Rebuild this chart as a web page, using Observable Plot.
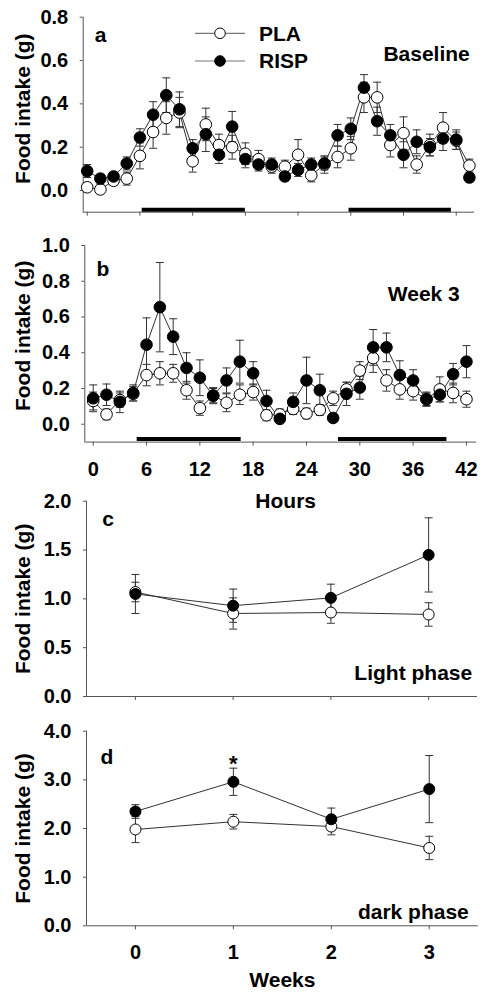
<!DOCTYPE html>
<html><head><meta charset="utf-8">
<script src="https://cdn.jsdelivr.net/npm/d3@7"></script>
<script src="https://cdn.jsdelivr.net/npm/@observablehq/plot@0.6"></script>
<style>
body{margin:0;background:#fff;}
#chart{position:relative;width:495px;height:997px;overflow:hidden;font-family:"Liberation Sans",Arial,sans-serif;font-weight:bold;}
.pane{position:absolute;left:0;}
</style></head><body><div id="chart"></div>
<script>
// ---------- data ----------
const hoursA = [0,1.5,3,4.5,6,7.5,9,10.5,12,13.5,15,16.5,18,19.5,21,22.5,24,25.5,27,28.5,30,31.5,33,34.5,36,37.5,39,40.5,42,43.5];
const plaA     = [0.015,0.005,0.045,0.055,0.16,0.27,0.335,0.36,0.135,0.305,0.21,0.20,0.17,0.145,0.11,0.11,0.165,0.07,0.12,0.155,0.195,0.43,0.43,0.21,0.265,0.12,0.21,0.29,0.23,0.115];
const plaAErr  = [0.02,0.02,0.02,0.03,0.06,0.075,0.075,0.07,0.05,0.075,0.05,0.055,0.05,0.04,0.03,0.03,0.07,0.03,0.04,0.05,0.055,0.07,0.07,0.055,0.075,0.04,0.05,0.07,0.04,0.03];
const rispA    = [0.09,0.055,0.065,0.125,0.245,0.35,0.44,0.375,0.195,0.26,0.165,0.295,0.145,0.12,0.12,0.065,0.095,0.12,0.125,0.255,0.285,0.475,0.32,0.255,0.165,0.225,0.20,0.24,0.235,0.06];
const rispAErr = [0.03,0.02,0.02,0.03,0.04,0.06,0.08,0.08,0.04,0.08,0.04,0.07,0.04,0.03,0.03,0.02,0.03,0.03,0.03,0.05,0.05,0.06,0.065,0.05,0.06,0.055,0.04,0.055,0.045,0.02];
const darkA    = [[6.26,18.0],[29.8,41.45]];

const hoursB = [0,1.5,3,4.5,6,7.5,9,10.5,12,13.5,15,16.5,18,19.5,21,22.5,24,25.5,27,28.5,30,31.5,33,34.5,36,37.5,39,40.5,42];
const plaB     = [0.13,0.055,0.135,0.17,0.275,0.285,0.285,0.19,0.09,0.16,0.12,0.165,0.18,0.05,0.055,0.085,0.06,0.08,0.145,0.195,0.30,0.37,0.245,0.195,0.185,0.14,0.195,0.175,0.14];
const plaBErr  = [0.05,0.03,0.04,0.04,0.06,0.065,0.05,0.05,0.04,0.04,0.05,0.055,0.045,0.03,0.03,0.03,0.03,0.03,0.04,0.04,0.05,0.08,0.06,0.055,0.05,0.04,0.07,0.055,0.045];
const rispB    = [0.145,0.165,0.125,0.175,0.445,0.655,0.49,0.315,0.26,0.16,0.245,0.35,0.285,0.13,0.03,0.125,0.245,0.19,0.035,0.17,0.205,0.43,0.43,0.275,0.245,0.14,0.165,0.28,0.35];
const rispBErr = [0.075,0.06,0.06,0.045,0.15,0.25,0.10,0.085,0.10,0.045,0.07,0.12,0.065,0.06,0.02,0.05,0.13,0.09,0.02,0.065,0.065,0.10,0.08,0.08,0.06,0.035,0.04,0.06,0.09];
const darkB    = [[4.95,16.65],[27.6,39.8]];
const hourTicks = [0,6,12,18,24,30,36,42];

const weeks = [0,1,2,3];
const plaC = [1.07,0.85,0.86,0.84],  plaCErr = [0.10,0.16,0.11,0.12];
const rispC = [1.05,0.93,1.01,1.45], rispCErr = [0.20,0.17,0.14,0.38];
const plaD = [1.98,2.14,2.04,1.60],  plaDErr = [0.27,0.15,0.17,0.24];
const rispD = [2.35,2.96,2.19,2.81], rispDErr = [0.14,0.28,0.23,0.69];
const sigD = [1]; // week index with significance marker

const seriesNames = ["PLA","RISP"];
const yLabel = "Food intake (g)";

// ---------- helpers ----------
const capSymbol = {draw(ctx, size){ const w = Math.sqrt(size/Math.PI); ctx.moveTo(-w,0); ctx.lineTo(w,0);} };
const rows = (xs, ys, es) => xs.map((x,i)=>({x, y: ys[i], e: es[i]}));
const fmt1 = d3.format(".1f");

function panel(o){
  const pla = rows(o.x, o.pla, o.plaErr), risp = rows(o.x, o.risp, o.rispErr);
  const err = (data) => [
    Plot.ruleX(data, {x:"x", y1: d=>d.y-d.e, y2: d=>d.y+d.e, stroke:"#333", strokeWidth:1}),
    Plot.dot(data, {x:"x", y: d=>d.y+d.e, symbol: capSymbol, r: o.cap, stroke:"#333", strokeWidth:1, fill:"none"}),
    Plot.dot(data, {x:"x", y: d=>d.y-d.e, symbol: capSymbol, r: o.cap, stroke:"#333", strokeWidth:1, fill:"none"})
  ];
  const marks = [
    Plot.ruleX([o.xDomain[0]], {stroke:"#555", strokeWidth:1}),
    Plot.ruleY([o.yDomain[0]], {stroke:"#555", strokeWidth:1}),
    Plot.axisY({ticks: o.yTicks, tickFormat: fmt1, tickSize: 3, tickPadding: 12, stroke:"#555", fill:"#000", label: null}),
    Plot.axisX({ticks: o.xTicks, tickSize: 4, tickPadding: o.xPad, stroke:"#555", fill:"#000", label: null,
                tickFormat: o.xLabels ? (d=>String(d)) : (()=>"")}),
  ];
  if (o.dark) marks.push(Plot.ruleY(o.dark, {x1: d=>d[0], x2: d=>d[1], y: () => o.yDomain[0], dy: o.darkDy, stroke:"#000", strokeWidth:4}));
  marks.push(
    Plot.line(pla, {x:"x", y:"y", stroke:"#333", strokeWidth:1}),
    Plot.line(risp, {x:"x", y:"y", stroke:"#333", strokeWidth:1}),
    ...err(pla), ...err(risp),
    Plot.dot(pla, {x:"x", y:"y", r:o.r, fill:"#fff", stroke:"#000", strokeWidth:1}),
    Plot.dot(risp, {x:"x", y:"y", r:o.r, fill:"#000", stroke:"#000", strokeWidth:1}),
    Plot.text([yLabel], {frameAnchor:"left", textAnchor:"middle", lineAnchor:"middle", rotate:-90, dx: 23 - o.ml, dy: o.ylabDy || 0, fontSize: 21}),
    Plot.text([o.letter], {frameAnchor:"top-left", textAnchor:"start", lineAnchor:"middle", dx:o.letterPos[0], dy:o.letterPos[1], fontSize:21}),
    Plot.text([o.note], {frameAnchor:o.noteAnchor, textAnchor:"end", lineAnchor:"middle", dx:o.notePos[0], dy:o.notePos[1], fontSize:21})
  );
  if (o.xTitle) marks.push(Plot.text([o.xTitle], {frameAnchor:"bottom", textAnchor:"middle", lineAnchor:"middle", dx:o.xTitlePos[0], dy:o.xTitlePos[1], fontSize:21}));
  if (o.extra) marks.push(...o.extra);
  return Plot.plot({
    width: 495, height: o.height,
    marginLeft: o.ml, marginRight: o.mr, marginTop: o.mt, marginBottom: o.height - o.bottom,
    x: {domain: o.xDomain, axis: null},
    y: {domain: o.yDomain, axis: null},
    style: {fontFamily:'"Liberation Sans", Arial, sans-serif', fontSize:"20px", fontWeight:"bold", color:"#000", background:"transparent", overflow:"visible"},
    marks
  });
}

const chart = document.getElementById("chart");
function place(node, top){ const d = document.createElement("div"); d.className="pane"; d.style.top = top+"px"; d.appendChild(node); chart.appendChild(d); }

// Panel a
place(panel({
  height: 240, ml: 82.7, mr: 21, mt: 16.7, bottom: 211.7,
  xDomain: [-0.455, 44.08], yDomain: [-0.1, 0.8], yTicks: [0,0.2,0.4,0.6,0.8],
  xTicks: hourTicks, xLabels: false, xPad: 4,
  x: hoursA, pla: plaA, plaErr: plaAErr, risp: rispA, rispErr: rispAErr,
  r: 5.8, cap: 4, dark: darkA, darkDy: -2.4, ylabDy: -6,
  letter: "a", letterPos: [11.6, 18.3], note: "Baseline", noteAnchor: "top-right", notePos: [-4.7, 36.6],
}), 0);

// Panel b
place(panel({
  height: 290, ml: 84.3, mr: 19, mt: 15, bottom: 211.6,
  xDomain: [-0.945, 43.13], yDomain: [-0.1, 1.0], yTicks: [0,0.2,0.4,0.6,0.8,1.0],
  xTicks: hourTicks, xLabels: true, xPad: 16,
  x: hoursB, pla: plaB, plaErr: plaBErr, risp: rispB, rispErr: rispBErr,
  r: 5.8, cap: 4, dark: darkB, darkDy: -3, ylabDy: -8,
  letter: "b", letterPos: [11.7, 23.3], note: "Week 3", noteAnchor: "top-right", notePos: [-16.7, 49],
  xTitle: "Hours", xTitlePos: [5, 59.4]
}), 230);

// Panel c
place(panel({
  height: 245, ml: 86, mr: 18, mt: 20.7, bottom: 216,
  xDomain: [-0.5, 3.5], yDomain: [0, 2], yTicks: [0,0.5,1.0,1.5,2.0],
  xTicks: weeks, xLabels: false, xPad: 4,
  x: weeks, pla: plaC, plaErr: plaCErr, risp: rispC, rispErr: rispCErr,
  r: 5.5, cap: 4,
  letter: "c", letterPos: [15.7, 17.6], note: "Light phase", noteAnchor: "bottom-right", notePos: [-5.3, -23.7],
}), 480);

// Panel d
place(panel({
  height: 287, ml: 86, mr: 17.3, mt: 20.7, bottom: 215.3,
  xDomain: [-0.5, 3.5], yDomain: [0, 4], yTicks: [0,1,2,3,4],
  xTicks: weeks, xLabels: true, xPad: 15,
  x: weeks, pla: plaD, plaErr: plaDErr, risp: rispD, rispErr: rispDErr,
  r: 5.5, cap: 4,
  letter: "d", letterPos: [14, 26], note: "dark phase", noteAnchor: "bottom-right", notePos: [-9.4, -13.6],
  xTitle: "Weeks", xTitlePos: [0, 54.7],
  extra: [Plot.text(sigD, {x: d=>weeks[d], y: d=>rispD[d]+rispDErr[d], text: ()=>"*", dy: -4, fontSize: 22})]
}), 710);

// Legend (panel a)
const lg = d3.create("svg").attr("width", 130).attr("height", 50)
  .style("position","absolute").style("left","190px").style("top","18px").style("overflow","visible");
seriesNames.forEach((name,i)=>{
  const g = lg.append("g").attr("transform", `translate(0,${15.3 + i*27.7})`);
  g.append("line").attr("x1",5).attr("x2",55).attr("stroke","#777").attr("stroke-width",1.2);
  g.append("circle").attr("cx",30).attr("r",5.3).attr("fill", i ? "#000" : "#fff").attr("stroke","#000");
  g.append("text").attr("x",69).attr("dy","0.35em").attr("font-size",21).attr("font-weight","bold")
    .attr("font-family",'"Liberation Sans", Arial, sans-serif').text(name);
});
chart.appendChild(lg.node());
</script></body></html>
